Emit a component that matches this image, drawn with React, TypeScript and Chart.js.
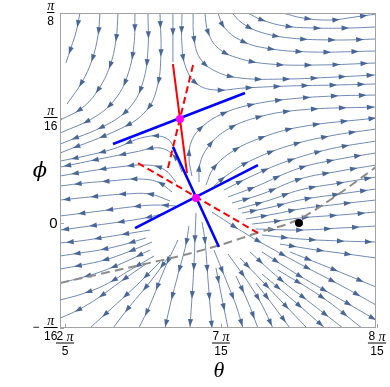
import React, { useEffect, useRef } from "react";
import { Chart, registerables } from "chart.js";

Chart.register(...registerables);

type P = [number, number];

// Units: x = θ in multiples of π/15, y = φ in multiples of π/16
const X_MIN = 5.968;
const X_MAX = 7.994;
const Y_MIN = -1;
const Y_MAX = 2;

const xTickValues = [6, 7, 8];
const xTickNumerators = ["2", "7", "8"];
const xTickDenominators = ["5", "15", "15"];
const yTickValues = [-1, 0, 1, 2];
const yTickSigns = ["−", "", "", ""];
const yTickDenominators = ["16", "", "16", "8"];

// streamlines (each listed in the direction of flow)
const topLeftStreams: P[][] = [
  [[6.096, 2.0], [6.071, 1.819], [6.038, 1.667], [6.006, 1.524]],
  [[6.224, 2.0], [6.212, 1.79], [6.173, 1.552], [6.109, 1.343], [6.013, 1.133]],
  [[6.34, 2.0], [6.327, 1.743], [6.288, 1.495], [6.212, 1.267], [6.109, 1.095], [5.97, 0.981]],
  [[6.449, 2.0], [6.442, 1.695], [6.404, 1.419], [6.327, 1.19], [6.192, 1.01], [5.97, 0.857]],
  [[6.532, 2.0], [6.532, 1.648], [6.5, 1.343], [6.423, 1.114], [6.276, 0.943], [5.97, 0.752]],
  [[6.609, 2.0], [6.615, 1.6], [6.59, 1.286], [6.519, 1.067], [6.365, 0.905], [5.97, 0.667]],
  [[6.692, 2.0], [6.692, 1.762], [6.692, 1.533]],
];

const topRightStreams: P[][] = [
  [[7.397, 2.0], [7.526, 1.952], [7.699, 1.933], [7.859, 1.962], [7.994, 1.99]],
  [[7.173, 2.0], [7.263, 1.933], [7.41, 1.876], [7.603, 1.857], [7.827, 1.857], [7.994, 1.867]],
  [[7.071, 2.0], [7.135, 1.905], [7.25, 1.819], [7.442, 1.762], [7.731, 1.743], [7.994, 1.752]],
  [[6.981, 2.0], [7.019, 1.867], [7.122, 1.743], [7.282, 1.667], [7.571, 1.629], [7.994, 1.638]],
  [[6.897, 2.0], [6.917, 1.819], [6.981, 1.667], [7.109, 1.571], [7.314, 1.514], [7.635, 1.505], [7.994, 1.524]],
  [[6.821, 2.0], [6.827, 1.762], [6.865, 1.571], [6.962, 1.448], [7.122, 1.381], [7.41, 1.371], [7.731, 1.39], [7.994, 1.41]],
  [[6.75, 2.0], [6.75, 1.695], [6.776, 1.476], [6.846, 1.324], [6.962, 1.267], [7.154, 1.286], [7.442, 1.305], [7.731, 1.314], [7.994, 1.324]],
];

const rightStreams: P[][] = [
  [[6.814, 0.448], [6.795, 0.619], [6.814, 0.79], [6.885, 0.924], [7.006, 1.038], [7.186, 1.124], [7.442, 1.181], [7.731, 1.21], [7.994, 1.219]],
  [[6.859, 0.39], [6.865, 0.562], [6.917, 0.724], [7.026, 0.876], [7.218, 1.0], [7.506, 1.076], [7.994, 1.105]],
  [[6.904, 0.362], [6.949, 0.514], [7.058, 0.667], [7.237, 0.8], [7.506, 0.914], [7.994, 1.0]],
  [[6.955, 0.352], [7.032, 0.448], [7.186, 0.59], [7.429, 0.733], [7.699, 0.829], [7.994, 0.895]],
  [[7.019, 0.314], [7.186, 0.438], [7.41, 0.581], [7.699, 0.705], [7.994, 0.781]],
  [[7.045, 0.248], [7.218, 0.343], [7.506, 0.524], [7.763, 0.61], [7.994, 0.667]],
  [[7.071, 0.19], [7.263, 0.276], [7.506, 0.419], [7.763, 0.495], [7.994, 0.552]],
  [[7.109, 0.133], [7.314, 0.219], [7.506, 0.314], [7.763, 0.381], [7.994, 0.438]],
  [[7.135, 0.095], [7.327, 0.152], [7.506, 0.219], [7.763, 0.276], [7.994, 0.324]],
  [[7.16, 0.038], [7.346, 0.086], [7.506, 0.133], [7.763, 0.181], [7.994, 0.219]],
  [[7.199, -0.01], [7.365, 0.019], [7.506, 0.048], [7.763, 0.076], [7.994, 0.105]],
  [[7.224, -0.057], [7.506, -0.067], [7.763, -0.048], [7.994, -0.029]],
  [[7.263, -0.114], [7.506, -0.152], [7.763, -0.171], [7.994, -0.181]],
  [[7.378, -0.2], [7.571, -0.248], [7.763, -0.286], [7.994, -0.333]],
];

const lowerRightStreams: P[][] = [
  [[7.442, -0.276], [7.731, -0.448], [7.994, -0.61]],
  [[6.942, 0.105], [7.09, -0.038], [7.25, -0.181], [7.506, -0.39], [7.763, -0.59], [7.994, -0.781]],
  [[7.263, -0.276], [7.506, -0.505], [7.763, -0.724], [7.994, -0.924]],
  [[7.365, -0.448], [7.647, -0.705], [7.904, -1.0]],
  [[7.186, -0.276], [7.378, -0.533], [7.583, -0.771], [7.782, -1.0]],
  [[7.263, -0.486], [7.468, -0.743], [7.667, -1.0]],
  [[7.122, -0.333], [7.263, -0.552], [7.41, -0.781], [7.551, -1.0]],
  [[7.224, -0.571], [7.333, -0.781], [7.442, -1.0]],
  [[7.045, -0.295], [7.173, -0.562], [7.263, -0.781], [7.333, -1.0]],
  [[7.096, -0.505], [7.173, -0.752], [7.237, -1.0]],
  [[6.955, -0.257], [7.045, -0.59], [7.096, -0.781], [7.141, -1.0]],
  [[6.968, -0.429], [7.006, -0.714], [7.045, -1.0]],
  [[6.878, 0.01], [6.897, -0.162], [6.917, -0.543], [6.942, -1.0]],
];

const bottomStreams: P[][] = [
  [[6.84, 0.095], [6.833, -0.162], [6.827, -0.4], [6.814, -0.714], [6.801, -1.0]],
  [[6.795, -0.029], [6.776, -0.2], [6.724, -0.495], [6.679, -0.752], [6.641, -1.0]],
  [[6.724, -0.162], [6.635, -0.448], [6.545, -0.781], [6.474, -1.0]],
  [[6.673, -0.305], [6.545, -0.562], [6.417, -0.79], [6.308, -1.0]],
  [[6.609, -0.371], [6.468, -0.581], [6.301, -0.81], [6.16, -1.0]],
];

const leftStreams: P[][] = [
  [[6.712, 0.695], [6.647, 0.81], [6.513, 0.819], [6.308, 0.705], [6.128, 0.638], [5.97, 0.59]],
  [[6.75, 0.486], [6.705, 0.629], [6.609, 0.714], [6.449, 0.676], [6.224, 0.61], [5.97, 0.533]],
  [[6.712, 0.39], [6.641, 0.505], [6.532, 0.552], [6.34, 0.533], [6.16, 0.495], [5.97, 0.448]],
  [[6.686, 0.295], [6.596, 0.39], [6.468, 0.419], [6.288, 0.4], [6.128, 0.381], [5.97, 0.352]],
  [[6.673, 0.21], [6.545, 0.276], [6.385, 0.276], [6.224, 0.257], [5.97, 0.219]],
  [[6.712, 0.162], [6.577, 0.171], [6.417, 0.152], [6.224, 0.114], [5.97, 0.067]],
  [[6.647, 0.095], [6.513, 0.048], [6.353, 0.01], [6.16, -0.029], [5.97, -0.067]],
  [[6.545, -0.067], [6.385, -0.105], [6.224, -0.143], [6.096, -0.171], [5.97, -0.19]],
  [[6.519, -0.143], [6.365, -0.21], [6.224, -0.257], [6.096, -0.286], [5.97, -0.314]],
  [[6.558, -0.181], [6.404, -0.276], [6.256, -0.352], [6.109, -0.4], [5.97, -0.438]],
  [[6.545, -0.257], [6.385, -0.371], [6.224, -0.467], [6.096, -0.524], [5.97, -0.571]],
  [[6.571, -0.314], [6.417, -0.448], [6.256, -0.59], [6.109, -0.676], [5.97, -0.733]],
  [[6.519, -0.39], [6.353, -0.562], [6.212, -0.714], [6.083, -0.829], [5.97, -0.905]],
];

// overlays
const blueSegments: P[][] = [
  [[6.308, 0.752], [7.154, 1.238]],
  [[6.449, -0.048], [7.237, 0.552]],
  [[6.692, 0.724], [6.987, -0.229]],
];
const redSolidSegment: P[] = [[6.692, 1.514], [6.782, 0.476]];
const redDashedSegments: P[][] = [
  [[6.821, 1.505], [6.654, 0.486]],
  [[6.468, 0.571], [7.237, -0.095]],
];
const grayCurve: P[] = [
  [5.968, -0.571], [6.224, -0.486], [6.481, -0.4], [6.737, -0.314], [6.994, -0.21],
  [7.25, -0.086], [7.474, 0.019], [7.699, 0.219], [7.994, 0.533],
];
const criticalPoints: P[] = [[6.737, 0.99], [6.84, 0.238]];
const blackPoint: P[] = [[7.5, 0]];

const STREAM_COLOR = "rgb(112,137,180)";
const ARROW_COLOR = "rgb(72,102,152)";
const ARROW_SPACING = 28;

const NUM_FONT = '12px "Liberation Sans", Arial, sans-serif';
const PI_FONT = 'italic 14px "Liberation Serif", "DejaVu Serif", serif';
const ZERO_FONT = '15px "Liberation Sans", Arial, sans-serif';
const TITLE_FONT = 'italic 22px "Liberation Serif", "DejaVu Serif", serif';
const PHI_FONT = 'italic 21px "DejaVu Serif", "Liberation Serif", serif';

const toXY = (p: P) => ({ x: p[0], y: p[1] });

function drawRuns(ctx: CanvasRenderingContext2D, runs: { t: string; f: string }[], cx: number, cy: number) {
  let total = 0;
  const widths = runs.map((r) => {
    ctx.font = r.f;
    const w = ctx.measureText(r.t).width;
    total += w;
    return w;
  });
  let x = cx - total / 2;
  ctx.textAlign = "left";
  ctx.textBaseline = "middle";
  runs.forEach((r, i) => {
    ctx.font = r.f;
    ctx.fillText(r.t, x, cy);
    x += widths[i];
  });
  return total;
}

const streamArrowPlugin = {
  id: "streamArrows",
  afterDatasetDraw(chart: any, args: any) {
    const ds = chart.data.datasets[args.index];
    if (!ds || !ds.isStream) return;
    const pts = args.meta.data;
    if (!pts || pts.length < 2) return;
    const samples: number[][] = [];
    for (let i = 0; i < pts.length - 1; i++) {
      const a = pts[i];
      const b = pts[i + 1];
      const c1x = Number.isFinite(a.cp2x) ? a.cp2x : a.x;
      const c1y = Number.isFinite(a.cp2y) ? a.cp2y : a.y;
      const c2x = Number.isFinite(b.cp1x) ? b.cp1x : b.x;
      const c2y = Number.isFinite(b.cp1y) ? b.cp1y : b.y;
      const N = 24;
      for (let k = i === 0 ? 0 : 1; k <= N; k++) {
        const t = k / N;
        const mt = 1 - t;
        const x = mt * mt * mt * a.x + 3 * mt * mt * t * c1x + 3 * mt * t * t * c2x + t * t * t * b.x;
        const y = mt * mt * mt * a.y + 3 * mt * mt * t * c1y + 3 * mt * t * t * c2y + t * t * t * b.y;
        samples.push([x, y]);
      }
    }
    const cum = [0];
    for (let i = 1; i < samples.length; i++) {
      cum.push(cum[i - 1] + Math.hypot(samples[i][0] - samples[i - 1][0], samples[i][1] - samples[i - 1][1]));
    }
    const total = cum[cum.length - 1];
    const ctx = chart.ctx;
    const ca = chart.chartArea;
    ctx.save();
    ctx.beginPath();
    ctx.rect(ca.left, ca.top, ca.right - ca.left, ca.bottom - ca.top);
    ctx.clip();
    ctx.fillStyle = ARROW_COLOR;
    let s = ds.arrowPhase;
    let j = 1;
    while (s < total - 3) {
      while (j < cum.length - 1 && cum[j] < s) j++;
      const p0 = samples[j - 1];
      const p1 = samples[j];
      const seg = cum[j] - cum[j - 1] || 1;
      const t = (s - cum[j - 1]) / seg;
      const x = p0[0] + (p1[0] - p0[0]) * t;
      const y = p0[1] + (p1[1] - p0[1]) * t;
      let dx = p1[0] - p0[0];
      let dy = p1[1] - p0[1];
      const L = Math.hypot(dx, dy) || 1;
      dx /= L;
      dy /= L;
      const len = 7.5;
      const half = 2.6;
      const tx = x + dx * len * 0.5;
      const ty = y + dy * len * 0.5;
      const bx = x - dx * len * 0.5;
      const by = y - dy * len * 0.5;
      ctx.beginPath();
      ctx.moveTo(tx, ty);
      ctx.lineTo(bx - dy * half, by + dx * half);
      ctx.lineTo(bx + dy * half, by - dx * half);
      ctx.closePath();
      ctx.fill();
      s += ARROW_SPACING;
    }
    ctx.restore();
  },
};

const framePlugin = {
  id: "frameAndLabels",
  afterDraw(chart: any) {
    const { ctx, chartArea: ca, scales } = chart;
    const xs = scales.x;
    const ys = scales.y;
    ctx.save();
    ctx.strokeStyle = "#a2a2a2";
    ctx.lineWidth = 1;
    ctx.strokeRect(ca.left + 0.5, ca.top + 0.5, ca.right - ca.left - 1, ca.bottom - ca.top - 1);
    // ticks
    ctx.beginPath();
    xTickValues.forEach((v) => {
      const px = Math.round(xs.getPixelForValue(v)) + 0.5;
      ctx.moveTo(px, ca.bottom);
      ctx.lineTo(px, ca.bottom - 4);
    });
    yTickValues.forEach((v) => {
      const py = Math.round(ys.getPixelForValue(v)) + 0.5;
      ctx.moveTo(ca.left, py);
      ctx.lineTo(ca.left + 4, py);
    });
    ctx.stroke();

    ctx.fillStyle = "#000";
    // x tick labels (fractions)
    xTickValues.forEach((v, i) => {
      const px = xs.getPixelForValue(v);
      const wn = drawRuns(ctx, [{ t: xTickNumerators[i], f: NUM_FONT }, { t: " ", f: NUM_FONT }, { t: "π", f: PI_FONT }], px, ca.bottom + 9);
      const wd = drawRuns(ctx, [{ t: xTickDenominators[i], f: NUM_FONT }], px, ca.bottom + 23.5);
      const w = Math.max(wn, wd) + 1;
      ctx.fillRect(px - w / 2, ca.bottom + 14.5, w, 1);
    });
    // y tick labels
    yTickValues.forEach((v, i) => {
      const py = ys.getPixelForValue(v);
      const den = yTickDenominators[i];
      if (!den) {
        ctx.font = ZERO_FONT;
        ctx.textAlign = "right";
        ctx.textBaseline = "middle";
        ctx.fillText("0", 57.5, py + 1);
        return;
      }
      const cx = 50.7;
      const wn = drawRuns(ctx, [{ t: "π", f: PI_FONT }], cx, py - 7);
      const wd = drawRuns(ctx, [{ t: den, f: NUM_FONT }], cx, py + 8.5);
      const w = Math.max(wn, wd) + 0.5;
      ctx.fillRect(cx - w / 2, py - 1, w, 1);
      if (yTickSigns[i]) {
        drawRuns(ctx, [{ t: yTickSigns[i], f: NUM_FONT }], 36, py);
      }
    });
    // axis titles
    ctx.font = TITLE_FONT;
    ctx.textAlign = "center";
    ctx.textBaseline = "middle";
    ctx.fillText("θ", (ca.left + ca.right) / 2 + 1, 371);
    ctx.font = PHI_FONT;
    ctx.fillText("ϕ", 40, 172);
    ctx.restore();
  },
};

export default function App() {
  const ref = useRef<HTMLCanvasElement>(null);
  useEffect(() => {
    const canvas = ref.current;
    if (!canvas) return;
    const datasets: any[] = [];
    datasets.push({
      data: criticalPoints.map(toXY),
      showLine: false,
      pointRadius: 4,
      pointBackgroundColor: "#ff00ff",
      pointBorderColor: "#ff00ff",
      pointBorderWidth: 0,
      order: 0,
    });
    datasets.push({
      data: blackPoint.map(toXY),
      showLine: false,
      pointRadius: 4,
      pointBackgroundColor: "#000000",
      pointBorderColor: "#000000",
      pointBorderWidth: 0,
      order: 0,
    });
    blueSegments.forEach((s) =>
      datasets.push({ data: s.map(toXY), borderColor: "#0000ff", borderWidth: 2.6, pointRadius: 0, tension: 0, order: 1 })
    );
    datasets.push({ data: redSolidSegment.map(toXY), borderColor: "#ff0000", borderWidth: 2, pointRadius: 0, tension: 0, order: 1 });
    redDashedSegments.forEach((s) =>
      datasets.push({ data: s.map(toXY), borderColor: "#ff0000", borderWidth: 2, borderDash: [7, 4], pointRadius: 0, tension: 0, order: 1 })
    );
    datasets.push({
      data: grayCurve.map(toXY),
      borderColor: "#8c8c8c",
      borderWidth: 2,
      borderDash: [9, 5],
      pointRadius: 0,
      tension: 0.4,
      order: 2,
    });
    const streams = [
      ...topLeftStreams,
      ...topRightStreams,
      ...rightStreams,
      ...lowerRightStreams,
      ...bottomStreams,
      ...leftStreams,
    ];
    streams.forEach((s, k) =>
      datasets.push({
        data: s.map(toXY),
        borderColor: STREAM_COLOR,
        borderWidth: 1,
        pointRadius: 0,
        tension: 0.4,
        order: 3,
        isStream: true,
        arrowPhase: 11 + ((k * 7) % 17),
      })
    );

    const chart = new Chart(canvas, {
      type: "line",
      data: { datasets },
      options: {
        responsive: false,
        devicePixelRatio: 1,
        animation: false,
        events: [],
        layout: { padding: { left: 60, right: 14, top: 13, bottom: 59 } },
        scales: {
          x: { type: "linear", min: X_MIN, max: X_MAX, display: false },
          y: { type: "linear", min: Y_MIN, max: Y_MAX, display: false },
        },
        plugins: { legend: { display: false }, tooltip: { enabled: false } },
      },
      plugins: [streamArrowPlugin, framePlugin],
    } as any);
    return () => chart.destroy();
  }, []);
  return (
    <div style={{ position: "absolute", left: 0, top: 0, width: 390, height: 387, background: "#fff" }}>
      <canvas ref={ref} width={390} height={387} style={{ display: "block" }} />
    </div>
  );
}
